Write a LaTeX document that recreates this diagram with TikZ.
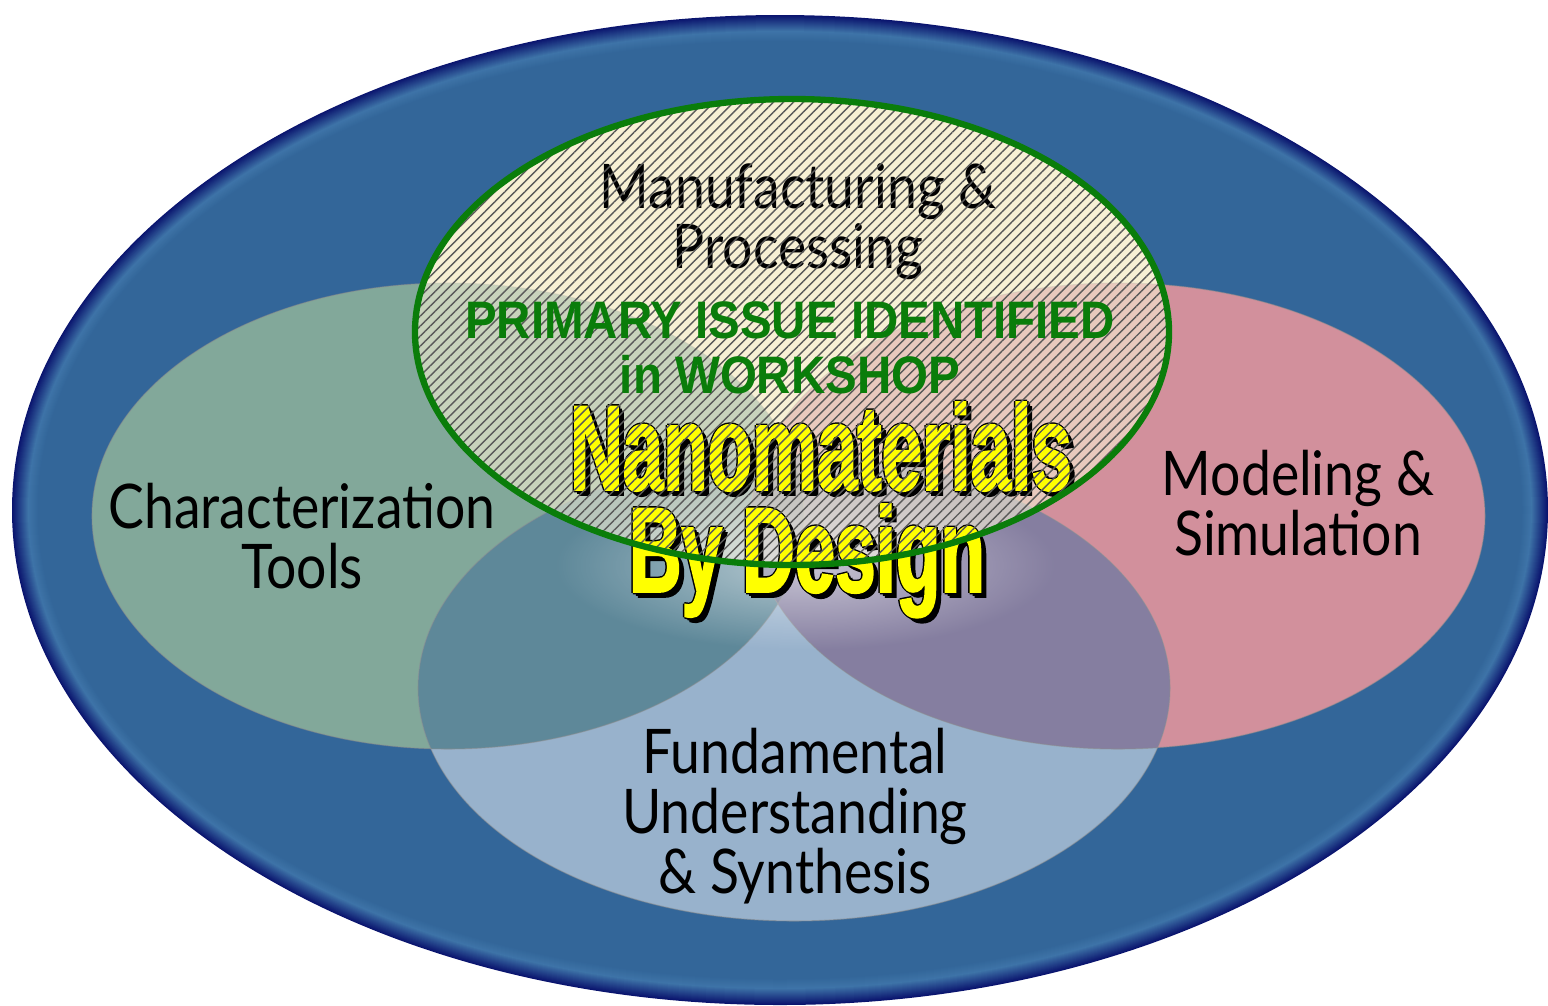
\documentclass[tikz,border=0pt]{standalone}
\usepackage{fontspec}
\usetikzlibrary{calc}
\usetikzlibrary{fadings}
\usetikzlibrary{patterns.meta}

\newfontfamily\vennfont[FakeStretch=0.87]{Lato}
\newfontfamily\issuefont[FakeStretch=0.9]{Liberation Sans}
\newfontfamily\titlefont[FakeStretch=0.6,FakeBold=1.5]{Liberation Sans}

\definecolor{ringnavy}{RGB}{10,20,110}
\definecolor{ringlight}{RGB}{62,116,168}
\definecolor{ringblue}{RGB}{51,102,153}
\definecolor{mfgcream}{RGB}{247,240,212}
\definecolor{chargreen}{RGB}{130,168,154}
\definecolor{modpink}{RGB}{210,144,156}
\definecolor{fundblue}{RGB}{152,178,204}
\definecolor{tealmix}{RGB}{94,136,153}
\definecolor{purplemix}{RGB}{133,126,160}
\definecolor{greenpink}{RGB}{150,140,150}
\definecolor{triplemix}{RGB}{105,110,140}
\definecolor{issuegreen}{RGB}{10,125,10}
\definecolor{titleyellow}{RGB}{255,255,0}

\tikzfading[name=glowfade, inner color=transparent!0, outer color=transparent!100]

\tikzset{
  venntxt/.style={font=\vennfont\fontsize{17.5}{17}\selectfont, align=center, anchor=base, text=black, inner sep=0pt},
  issuetxt/.style={font=\issuefont\bfseries\fontsize{15}{15.6}\selectfont, align=center, anchor=base, text=issuegreen, inner sep=0pt},
  titletxt/.style={font=\titlefont\bfseries\fontsize{34.5}{30}\selectfont, anchor=base, inner sep=0pt},
  edgeline/.style={black!45, line width=0.3pt, opacity=0.5}
}

\begin{document}
\begin{tikzpicture}[x=0.01cm, y=-0.01cm]
\useasboundingbox (0,0) rectangle (1548,1005);
\coordinate (O) at (780,510);
\coordinate (M) at (792,332);
\coordinate (C) at (448,516);
\coordinate (S) at (1118,516);
\coordinate (F) at (794,688);

% outer ring
\foreach \i in {0,...,16}{
  \pgfmathsetmacro\p{100*\i/16}
  \fill[ringlight!\p!ringnavy] (O) ellipse ({768-\i} and {495-\i});
}
\foreach \i in {17,...,26}{
  \pgfmathsetmacro\p{100*(\i-16)/10}
  \fill[ringblue!\p!ringlight] (O) ellipse ({768-\i} and {495-\i});
}

% the four fields
\fill[mfgcream] (M) ellipse (377 and 233);
\fill[chargreen] (C) ellipse (356 and 233);
\fill[modpink] (S) ellipse (367 and 233);
\fill[fundblue] (F) ellipse (376 and 233);
\begin{scope}
\clip (C) ellipse (356 and 233);
\fill[tealmix] (F) ellipse (376 and 233);
\end{scope}
\begin{scope}
\clip (S) ellipse (367 and 233);
\fill[purplemix] (F) ellipse (376 and 233);
\end{scope}
\begin{scope}
\clip (C) ellipse (356 and 233);
\fill[greenpink] (S) ellipse (367 and 233);
\clip (S) ellipse (367 and 233);
\fill[triplemix] (F) ellipse (376 and 233);
\end{scope}
\draw[edgeline] (C) ellipse (356 and 233);
\draw[edgeline] (S) ellipse (367 and 233);
\draw[edgeline] (F) ellipse (376 and 233);
\fill[mfgcream, fill opacity=0.6] (M) ellipse (377 and 233);
\fill[white, path fading=glowfade, fill opacity=0.55] (805,565) ellipse (250 and 85);

% labels, placed at the baseline of their last line
\node[venntxt] (mfg) at (798,268) {Manufacturing \&\\Processing};
\node[venntxt] (char) at (302,588) {Characterization\\Tools};
\node[venntxt] (mod) at (1298,555) {Modeling \&\\Simulation};
\node[venntxt] (fund) at (795,893) {Fundamental\\Understanding\\\& Synthesis};

% title with shadow
\coordinate (T1) at (821,490);
\coordinate (T2) at (807,592);
\foreach \dx/\dy in {3/3,5/5,-1.5/0,1.5/0,0/-1.5,0/1.5}{
  \node[titletxt, text=black] at ($(T1)+(\dx,\dy)$) {Nanomaterials};
  \node[titletxt, text=black] at ($(T2)+(\dx,\dy)$) {By Design};
}
\node[titletxt, text=titleyellow] (nano) at (T1) {Nanomaterials};
\node[titletxt, text=titleyellow] (design) at (T2) {By Design};

% hatch and outline of the primary issue
\fill[pattern={Lines[angle=45, distance=2pt, line width=0.4pt]}, pattern color=black!65, fill opacity=0.22] (M) ellipse (377 and 233);
\draw[issuegreen, line width=1.8pt] (M) ellipse (377 and 233);
\node[issuetxt] (issue) at (790,393) {PRIMARY ISSUE IDENTIFIED\\in WORKSHOP};

\end{tikzpicture}
\end{document}
